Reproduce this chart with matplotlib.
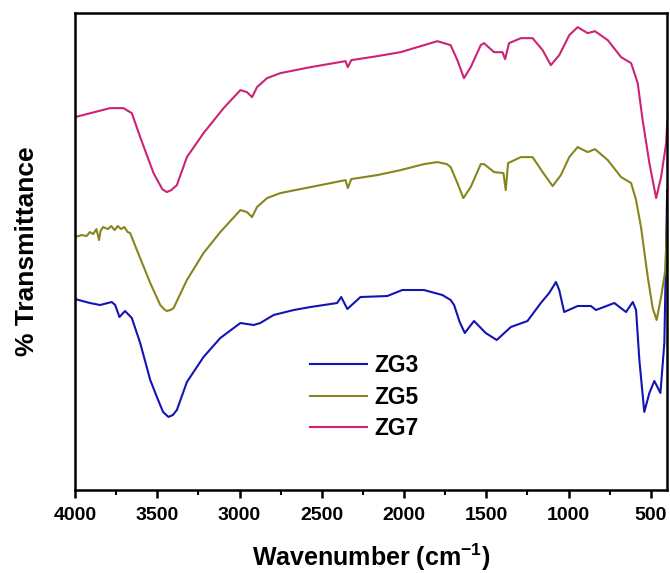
import matplotlib
matplotlib.use("Agg")
import matplotlib.pyplot as plt
from matplotlib.ticker import MultipleLocator, NullLocator

plt.rcParams['font.family'] = ['Liberation Sans', 'DejaVu Sans']
plt.rcParams['font.weight'] = 'bold'

# FTIR traces (wavenumber, offset transmittance)
zg3_wn = [4000, 3909, 3848, 3777, 3756, 3730, 3696, 3655, 3604, 3543, 3500, 3465,
          3432, 3405, 3381, 3320, 3219, 3117, 2995, 2914, 2874, 2793, 2671, 2569,
          2407, 2382, 2345, 2265, 2102, 2011, 1879, 1767, 1717, 1696, 1662, 1631,
          1575, 1504, 1437, 1351, 1250, 1169, 1118, 1077, 1057, 1027, 945, 864, 834,
          722, 651, 610, 590, 570, 540, 509, 479, 442, 418, 401]
zg3_t = [191, 187, 185, 188, 185, 173, 179, 172, 147, 110, 92, 78,
         73, 75, 80, 108, 133, 152, 167, 165, 167, 175, 180, 183,
         187, 193, 181, 193, 194, 200, 200, 195, 190, 185, 168, 157,
         169, 157, 150, 163, 169, 187, 197, 208, 200, 178, 184, 184, 180,
         187, 178, 188, 180, 130, 78, 97, 109, 97, 147, 300]

zg5_wn = [4000, 3960, 3930, 3910, 3890, 3870, 3854, 3845, 3830, 3800, 3780, 3760,
          3740, 3720, 3700, 3680, 3665, 3624, 3543, 3482, 3460, 3442, 3420, 3401,
          3320, 3219, 3117, 2995, 2955, 2924, 2894, 2833, 2752, 2569, 2356, 2342,
          2321, 2163, 2021, 1879, 1798, 1740, 1717, 1676, 1640, 1595, 1534, 1514,
          1453, 1396, 1382, 1368, 1290, 1219, 1158, 1097, 1047, 996, 945, 884, 840,
          762, 681, 620, 590, 560, 519, 489, 465, 438, 412, 400]
zg5_t = [253, 255, 254, 258, 256, 261, 250, 259, 263, 261, 264, 260,
         264, 261, 263, 258, 257, 240, 207, 185, 181, 179, 180, 182,
         210, 237, 258, 280, 278, 273, 283, 292, 297, 303, 310, 302,
         311, 315, 320, 326, 328, 326, 323, 307, 292, 303, 326, 326,
         318, 317, 300, 327, 333, 333, 318, 304, 315, 333, 343, 338, 341,
         330, 313, 307, 290, 263, 213, 182, 170, 193, 220, 277]

zg7_wn = [4000, 3787, 3706, 3655, 3604, 3523, 3470, 3442, 3415, 3381, 3320, 3219,
          3097, 2995, 2955, 2924, 2894, 2833, 2752, 2569, 2356, 2342, 2321, 2163,
          2021, 1899, 1798, 1757, 1717, 1676, 1636, 1595, 1534, 1514, 1453, 1402,
          1386, 1362, 1290, 1219, 1158, 1108, 1057, 996, 945, 884, 840, 762, 681,
          620, 580, 550, 509, 468, 438, 407, 400]
zg7_t = [373, 382, 382, 377, 353, 317, 301, 298, 300, 305, 333, 357,
         382, 400, 398, 393, 403, 412, 417, 423, 429, 423, 430, 434,
         438, 444, 449, 447, 445, 430, 412, 423, 445, 447, 438, 438,
         431, 447, 452, 452, 440, 425, 435, 455, 463, 457, 459, 450, 433,
         427, 407, 370, 327, 292, 313, 347, 370]

labels = ['ZG3', 'ZG5', 'ZG7']
colors = ['#1414b4', '#86861c', '#cc2277']

fig = plt.figure(figsize=(6.7, 5.73), dpi=100)
ax = fig.add_axes([0.112, 0.145, 0.884, 0.832])

ax.plot(zg3_wn, zg3_t, color=colors[0], lw=1.5, label=labels[0])
ax.plot(zg5_wn, zg5_t, color=colors[1], lw=1.5, label=labels[1])
ax.plot(zg7_wn, zg7_t, color=colors[2], lw=1.5, label=labels[2])

ax.set_xlim(4000, 400)
ax.set_ylim(0, 477)
ax.xaxis.set_major_locator(MultipleLocator(500))
ax.xaxis.set_minor_locator(MultipleLocator(250))
ax.yaxis.set_major_locator(NullLocator())
ax.tick_params(axis='x', which='major', direction='out', length=6, width=1.8,
               labelsize=14, pad=6, top=False)
ax.tick_params(axis='x', which='minor', direction='out', length=3.5, width=1.5, top=False)
for s in ax.spines.values():
    s.set_linewidth(1.8)

ax.set_xlabel('Wavenumber (cm$^{\\mathregular{-1}}$)', fontsize=18, fontweight='bold', labelpad=13)
ax.set_ylabel('% Transmittance', fontsize=19, fontweight='bold', labelpad=26)

leg = ax.legend(loc='upper left', bbox_to_anchor=(0.397, 0.285), frameon=False,
                fontsize=16.5, handlelength=2.5, handletextpad=0.3, labelspacing=0.38,
                borderpad=0, borderaxespad=0)
for t in leg.get_texts():
    t.set_fontweight('bold')

fig.savefig('out.png', dpi=100)
